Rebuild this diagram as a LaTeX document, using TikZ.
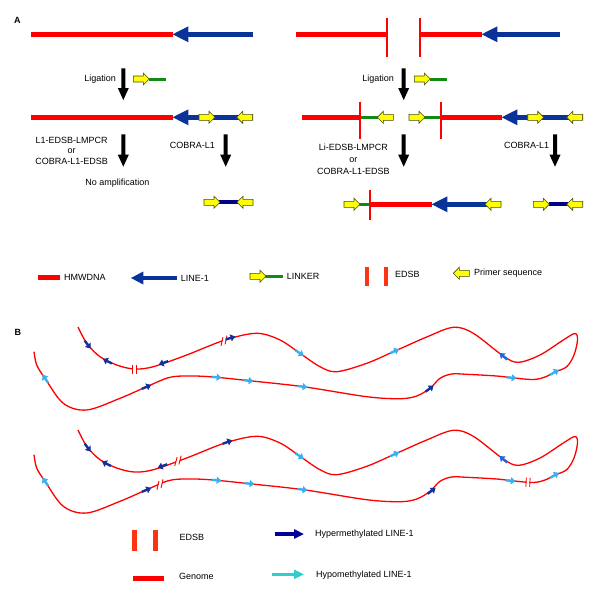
\documentclass[tikz,border=0pt]{standalone}
\usepackage{fontspec}
\setmainfont{Liberation Sans}
\usetikzlibrary{arrows.meta}
\definecolor{dnared}{HTML}{FF0000}
\definecolor{lineblue}{HTML}{0A3399}
\definecolor{lgreen}{HTML}{138A13}
\definecolor{yel}{HTML}{FFFF00}
\definecolor{olivedark}{HTML}{4A4A10}
\definecolor{navyp}{HTML}{000088}
\definecolor{edsbor}{HTML}{FF3311}
\definecolor{hyperc}{HTML}{14309A}
\definecolor{hypoc}{HTML}{3AB0F0}
\definecolor{midb}{HTML}{2266DD}
\definecolor{turq}{HTML}{33CCCC}
\definecolor{legnavy}{HTML}{000099}
\tikzset{
 dna/.style={draw=dnared,line width=4.5pt},
 lone/.style={draw=lineblue,line width=4.5pt},
 lnk/.style={draw=lgreen,line width=3pt},
 nav/.style={draw=navyp,line width=4pt},
 edA/.style={draw=dnared,line width=1.9pt},
 yelarr/.style={fill=yel,draw=olivedark,line width=0.6pt},
 txt/.style={inner sep=0pt,font=\fontsize{9}{10}\selectfont},
 curve/.style={draw=dnared,line width=1.3pt,line join=round},
 markarr/.style={line width=2.4pt,-{Triangle[length=4.8pt,width=7pt]}},
 edc/.style={draw=dnared,line width=0.9pt},
 yelR/.pic={\filldraw[yelarr] (0,-3)--(10,-3)--(10,-6)--(16,0)--(10,6)--(10,3)--(0,3)--cycle;},
 yelL/.pic={\filldraw[yelarr] (0,0)--(6,-6)--(6,-3)--(16,-3)--(16,3)--(6,3)--(6,6)--cycle;},
}
% LINE-1 arrow head: tip x, y
\newcommand\lhead[2]{\fill[lineblue] (#1,#2)--(#1+15.7,#2-8)--(#1+15.7,#2+8)--cycle;}
% black process arrow: x, y-start, y-tip
\newcommand\darr[3]{\fill[black] (#1-2,#2)--(#1+2,#2)--(#1+2,#3-12)--(#1+5.5,#3-12)--(#1,#3)--(#1-5.5,#3-12)--(#1-2,#3-12)--cycle;}
% curve marker: colour, x, y, direction dx, dy
\newcommand\mkr[5]{\pgfmathsetmacro\mkang{atan2(-(#5),#4)}%
 \begin{scope}[shift={(#2,#3)},rotate=\mkang]\draw[markarr,color=#1] (-5.5,0)--(4.5,0);\end{scope}}
% EDSB on curve, straight: x, y, tangent dx, dy
\newcommand\edv[4]{\pgfmathsetmacro\mkang{atan2(-(#4),#3)}%
 \begin{scope}[shift={(#1,#2)},rotate=\mkang,yscale=-1]
 \fill[white] (-1.5,-3.5) rectangle (1.5,3.5);
 \draw[edc] (-1.9,-4.5)--(-1.9,4.5) (1.9,-4.5)--(1.9,4.5);\end{scope}}
% EDSB on curve, slanted
\newcommand\eds[4]{\pgfmathsetmacro\mkang{atan2(-(#4),#3)}%
 \begin{scope}[shift={(#1,#2)},rotate=\mkang,yscale=-1]
 \fill[white] (-3.9,-3)--(-0.3,-3)--(3.9,3)--(0.3,3)--cycle;
 \draw[edc] (-4.8,-3.7)--(0.4,3.7) (-0.4,-3.7)--(4.8,3.7);\end{scope}}
\newcommand\gcurve{\draw[curve] plot[smooth,tension=0.55] coordinates {
 (78,327) (83,337) (88,345) (100,356.7) (116.7,365) (134.3,369) (153.3,366.7) (186.7,355)
 (225,340) (256.7,333.3) (280,340) (300,353.3) (320,366.7) (336.7,371.7) (366.7,363.3)
 (395,351) (426.7,337) (453.3,327.3) (473.3,333.3) (503.3,356) (518.3,362.3) (540,355)
 (563.3,340) (575,333.5) (577.5,340) (574,355) (566.7,366.7) (555,372) (545,377) (533,379.5)
 (511.7,377.7) (496.7,376) (466.7,374.3) (451.7,374) (440,378.3) (430,388.3) (416.7,396)
 (400,398.7) (366.7,396.7) (303.3,386.7) (249.3,380.7) (216.7,377.3) (193.3,376) (170,377.3)
 (146.7,386.7) (120,398.3) (86.7,410) (63.3,403.3) (45,378.3) (36.7,365) (34,351.7)};}

\begin{document}
\begin{tikzpicture}[x=1pt,y=-1pt]
\useasboundingbox (0,0) rectangle (600,600);
\fill[white] (0,0) rectangle (600,600);

% ---------------- Panel A ----------------
\node[txt,anchor=base west,font=\fontsize{9}{10}\selectfont\bfseries] (lblA) at (14,23.2) {A};

% row 1 left
\draw[dna] (31,34.3)--(172.7,34.3);
\draw[lone] (188,34.3)--(252.7,34.3);
\lhead{172.7}{34.3}
% row 1 right
\draw[dna] (296,34.3)--(387,34.3);
\draw[edA] (387,18.3)--(387,56.7);
\draw[edA] (420,18.3)--(420,56.7);
\draw[dna] (420,34.3)--(481.7,34.3);
\draw[lone] (497,34.3)--(560,34.3);
\lhead{481.7}{34.3}

% ligation
\darr{123.3}{68.3}{100}
\darr{403.7}{68.3}{100}
\node[txt,anchor=base east] (lig1) at (116,81.5) {Ligation};
\node[txt,anchor=base east] (lig2) at (394,81) {Ligation};
\draw[lnk] (149,79)--(165.7,79);
\pic at (133.3,79) {yelR};
\draw[lnk] (430,79)--(446.7,79);
\pic at (414.3,79) {yelR};

% row 2 left
\draw[dna] (31,117.3)--(172.7,117.3);
\draw[lone] (188,117.3)--(252.7,117.3);
\lhead{172.7}{117.3}
\pic at (199,117.3) {yelR};
\pic at (236.7,117.3) {yelL};
% row 2 right
\draw[dna] (301.7,117.3)--(360,117.3);
\draw[lnk] (360,117.3)--(378,117.3);
\pic at (377.3,117.3) {yelL};
\draw[edA] (360,101.7)--(360,139.3);
\draw[lnk] (424,117.3)--(441,117.3);
\pic at (409,117.3) {yelR};
\draw[dna] (441,117.3)--(501.7,117.3);
\draw[edA] (441,101.7)--(441,139.3);
\draw[lone] (517,117.3)--(582.7,117.3);
\lhead{501.7}{117.3}
\pic at (527.7,117.3) {yelR};
\pic at (566.7,117.3) {yelL};

% method labels
\node[txt,anchor=base] (m1a) at (71.7,143.3) {L1-EDSB-LMPCR};
\node[txt,anchor=base] (m1b) at (71.7,153.8) {or};
\node[txt,anchor=base] (m1c) at (71.7,164.3) {COBRA-L1-EDSB};
\node[txt,anchor=base] (m2a) at (353.3,150.9) {Li-EDSB-LMPCR};
\node[txt,anchor=base] (m2b) at (353.3,162.3) {or};
\node[txt,anchor=base] (m2c) at (353.3,174.0) {COBRA-L1-EDSB};
\node[txt,anchor=base] (cob1) at (192.3,148.2) {COBRA-L1};
\node[txt,anchor=base] (cob2) at (526.7,148.2) {COBRA-L1};
\darr{123.3}{134.3}{166.7}
\darr{225.7}{134.3}{166.7}
\darr{403.7}{134.3}{166.7}
\darr{555}{134.3}{166.7}
\node[txt,anchor=base] (noamp) at (117.3,185.9) {No amplification};

% products
\draw[nav] (219,202.3)--(238,202.3);
\pic at (204,202.3) {yelR};
\pic at (237,202.3) {yelL};

\draw[lnk] (359,204.3)--(370,204.3);
\pic at (344,204.3) {yelR};
\draw[dna] (370,204.3)--(431.7,204.3);
\draw[edA] (370,190)--(370,220);
\draw[lone] (447,204.3)--(500.7,204.3);
\lhead{431.7}{204.3}
\pic at (485,204.3) {yelL};

\draw[nav] (548.5,204.3)--(567.5,204.3);
\pic at (533.3,204.3) {yelR};
\pic at (566.7,204.3) {yelL};

% legend A
\draw[dna] (38.3,277.3)--(60,277.3);
\node[txt,anchor=base west] (lgA1) at (64,280.5) {HMWDNA};
\fill[lineblue] (131,278)--(143.3,271.5)--(143.3,284.5)--cycle;
\draw[lone] (143,278)--(176.7,278);
\node[txt,anchor=base west] (lgA2) at (180.7,281.5) {LINE-1};
\draw[lnk] (265,276.3)--(283.3,276.3);
\pic at (250,276.3) {yelR};
\node[txt,anchor=base west] (lgA3) at (286.7,279.6) {LINKER};
\draw[draw=edsbor,line width=4pt] (366.7,267.3)--(366.7,286.3) (386,267.3)--(386,286.3);
\node[txt,anchor=base west] (lgA4) at (395,277.4) {EDSB};
\pic at (453.3,273.3) {yelL};
\node[txt,anchor=base west] (lgA5) at (474,275.6) {Primer sequence};

% ---------------- Panel B ----------------
\node[txt,anchor=base west,font=\fontsize{9}{10}\selectfont\bfseries] (lblB) at (14.5,335.2) {B};

% pair 1
\gcurve
\mkr{hyperc}{88}{345}{6}{8}
\mkr{hyperc}{107}{361}{-2}{-1}
\edv{134.3}{369}{1}{0}
\mkr{hyperc}{163}{363}{-33}{12}
\eds{224}{340.8}{0.92}{-0.38}
\mkr{hyperc}{231}{337.8}{0.95}{-0.3}
\mkr{hypoc}{300}{353.3}{40}{26.7}
\mkr{hypoc}{395}{351}{60}{-28}
\mkr{midb}{503}{356}{-30}{-25}
\mkr{hypoc}{555}{372}{21.7}{-12.6}
\mkr{hypoc}{512}{377.8}{36}{3.5}
\mkr{hyperc}{430}{388.3}{23.3}{-17.7}
\mkr{hypoc}{303}{386.7}{117}{16}
\mkr{hypoc}{249}{380.7}{87}{9.4}
\mkr{hypoc}{217}{377.3}{56}{4.7}
\mkr{hyperc}{147}{386.7}{50}{-21}
\mkr{hypoc}{45}{378.3}{-26.6}{-38.3}

% pair 2
\begin{scope}[shift={(0,103)}]
\gcurve
\mkr{hyperc}{88}{345}{6}{8}
\mkr{hyperc}{106}{360.5}{-2}{-1}
\mkr{hyperc}{162}{363.2}{-33}{12}
\eds{178}{357.8}{33}{-12}
\mkr{hyperc}{228}{338.8}{0.95}{-0.35}
\mkr{hypoc}{300}{353.3}{40}{26.7}
\mkr{hypoc}{395}{351}{60}{-28}
\mkr{midb}{503}{356}{-30}{-25}
\mkr{hypoc}{555}{372}{21.7}{-12.6}
\edv{528}{379.3}{1}{0.05}
\mkr{hypoc}{511}{377.8}{36}{3.5}
\mkr{hyperc}{432}{387.5}{23.3}{-17.7}
\mkr{hypoc}{303}{386.7}{117}{16}
\mkr{hypoc}{250}{380.7}{87}{9.4}
\mkr{hypoc}{217}{377.3}{56}{4.7}
\eds{160}{381.5}{23}{-9.4}
\mkr{hyperc}{147}{386.7}{50}{-21}
\mkr{hypoc}{45}{378.3}{-26.6}{-38.3}
\end{scope}

% legend B
\draw[draw=edsbor,line width=5pt] (134.2,530)--(134.2,551) (155.8,530)--(155.8,551);
\node[txt,anchor=base west] (lgB1) at (179.3,540) {EDSB};
\draw[dna] (133.3,578.3)--(164.3,578.3);
\node[txt,anchor=base west] (lgB2) at (179,579.6) {Genome};
\draw[line width=3.5pt,color=legnavy,-{Triangle[length=10pt,width=9pt]}] (275,534)--(304,534);
\node[txt,anchor=base west] (lgB3) at (315,536.2) {Hypermethylated LINE-1};
\draw[line width=3.5pt,color=turq,-{Triangle[length=10pt,width=9pt]}] (272.3,574.3)--(304,574.3);
\node[txt,anchor=base west] (lgB4) at (316,577) {Hypomethylated LINE-1};
\end{tikzpicture}
\end{document}
